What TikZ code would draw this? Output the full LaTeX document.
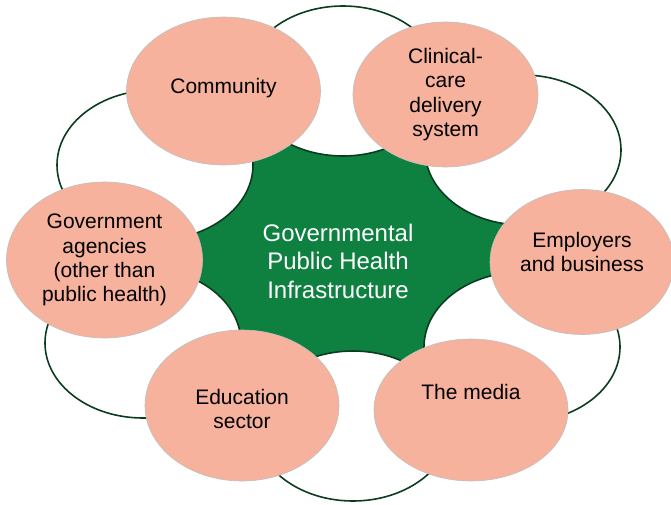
\documentclass[tikz,border=0pt]{standalone}
\usepackage{fontspec}
\setmainfont{Liberation Sans}
\usetikzlibrary{shapes.geometric,backgrounds}

\definecolor{salmon}{RGB}{246,178,156}
\definecolor{govgreen}{RGB}{14,128,64}
\definecolor{ringline}{RGB}{10,60,30}

\begin{document}
\begin{tikzpicture}[x=1pt,y=-1pt,
    ring/.style={ellipse,draw=ringline,line width=1.6pt,fill=white,minimum width=196pt,minimum height=150pt},
    partner/.style={ellipse,draw=black!25,line width=0.6pt,fill=salmon,minimum width=194pt,minimum height=148pt,
      inner sep=0pt,align=center,font=\fontsize{21}{24.3}\selectfont}]
  \useasboundingbox (0,0) rectangle (671,505);
  % white ring between the partners
  \node [ring] (r1) at (343,81) {}; % top
  \node [ring] (r2) at (523,150) {}; % upper right
  \node [ring] (r3) at (522,347) {}; % lower right
  \node [ring] (r4) at (353,426) {}; % bottom
  \node [ring] (r5) at (143,343) {}; % lower left
  \node [ring] (r6) at (155,165) {}; % upper left
  % partners
  \node [partner,text depth=10pt] (comm) at (223.5,91) {Community};
  \node [partner,minimum width=185pt,minimum height=145pt] (clin) at (445.5,94.5) {Clinical-\\care\\delivery\\system};
  \node [partner,minimum width=184pt,minimum height=145pt,text depth=20pt] (empl) at (582,262) {Employers\\and business};
  \node [partner,minimum height=142pt,text depth=12pt] (media) at (471,410) {The media\\\strut};
  \node [partner,minimum height=151pt] (edu) at (242,405.5) {\rule{0pt}{22pt}Education\\sector};
  \node [partner,minimum width=196pt,minimum height=156pt] (gov) at (104.5,260) {Government\\agencies\\(other than\\public health)};
  % the core
  \node [text=white,align=center,font=\fontsize{24}{28.5}\selectfont] (core) at (338,261)
    {Governmental\\Public Health\\Infrastructure};
  \begin{scope}[on background layer]
    \fill [govgreen] (comm.center) -- (r1.center) -- (clin.center) -- (r2.center) -- (empl.center) -- (r3.center)
      -- (media.center) -- (r4.center) -- (edu.center) -- (r5.center) -- (gov.center) -- (r6.center) -- cycle;
  \end{scope}
\end{tikzpicture}
\end{document}
